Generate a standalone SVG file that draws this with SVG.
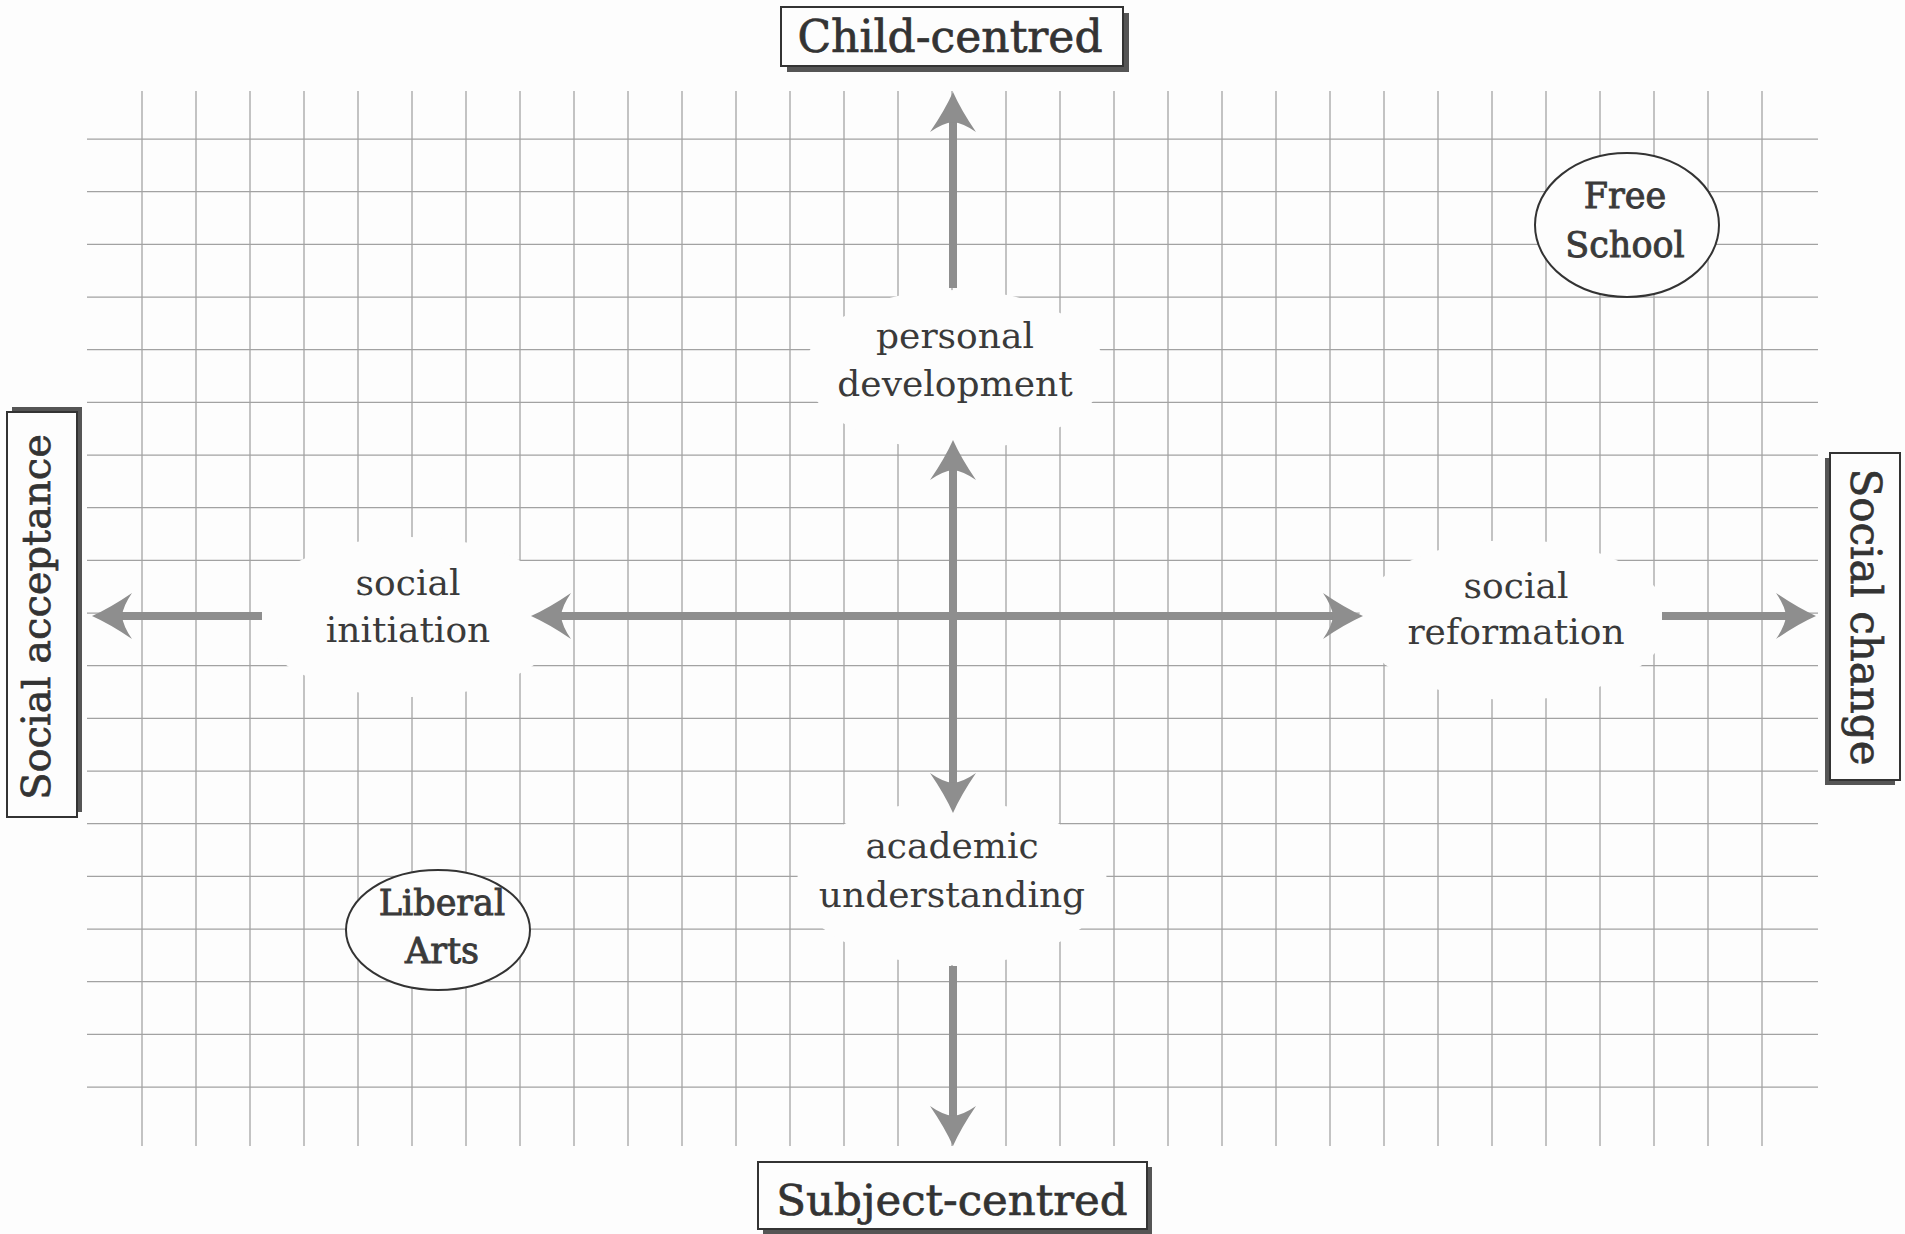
<svg xmlns="http://www.w3.org/2000/svg" width="1905" height="1234" viewBox="0 0 1905 1234">
<style>
.grid{stroke:#a2a2a2;stroke-width:1.25;fill:none}
.patch{fill:#fdfdfd;stroke:none}
.lbl{font-family:"DejaVu Serif","Liberation Serif",serif;font-size:36px;fill:#3a3a3a;text-anchor:middle}
.ttl{font-family:"DejaVu Serif","Liberation Serif",serif;fill:#333;stroke:#333;stroke-width:0.7;text-anchor:middle}
.ell{fill:#fdfdfd;stroke:#333;stroke-width:2}
.elt{font-family:"DejaVu Serif","Liberation Serif",serif;font-size:35px;fill:#3a3a3a;stroke:#3a3a3a;stroke-width:0.9;text-anchor:middle}
.box{fill:#fdfdfd;stroke:#333;stroke-width:2}
.shadow{fill:#555}
.arrow{stroke:#8e8e8e;stroke-width:8;fill:none;marker-end:url(#head)}
</style>
<defs>
<marker id="head" viewBox="-42 -25 44 50" refX="-28" refY="0" markerWidth="44" markerHeight="50" markerUnits="userSpaceOnUse" orient="auto-start-reverse">
<path d="M0 0 Q-18 -8 -40 -23 Q-31 -10 -30 0 Q-31 10 -40 23 Q-18 8 0 0Z" fill="#8e8e8e"/>
</marker>
</defs>
<rect width="1905" height="1234" fill="#fdfdfd"/>
<g id="grid" class="grid">
<path d="M142 91V1146M196 91V1146M250 91V1146M304 91V1146M358 91V1146M412 91V1146M466 91V1146M520 91V1146M574 91V1146M628 91V1146M682 91V1146M736 91V1146M790 91V1146M844 91V1146M898 91V1146M952 91V1146M1006 91V1146M1060 91V1146M1114 91V1146M1168 91V1146M1222 91V1146M1276 91V1146M1330 91V1146M1384 91V1146M1438 91V1146M1492 91V1146M1546 91V1146M1600 91V1146M1654 91V1146M1708 91V1146M1762 91V1146"/>
<path d="M87 139H1818M87 191.67H1818M87 244.33H1818M87 297H1818M87 349.67H1818M87 402.33H1818M87 455H1818M87 507.67H1818M87 560.33H1818M87 613H1818M87 665.67H1818M87 718.33H1818M87 771H1818M87 823.67H1818M87 876.33H1818M87 929H1818M87 981.67H1818M87 1034.33H1818M87 1087H1818"/>
</g>
<g id="node-child-centred">
<rect class="shadow" x="787" y="13" width="342" height="59"/>
<rect class="box" x="781" y="7" width="342" height="59"/>
<text class="ttl" x="950" y="52" font-size="44">Child-centred</text>
</g>
<g id="node-subject-centred">
<rect class="shadow" x="763" y="1167" width="389" height="67"/>
<rect class="box" x="758" y="1162" width="389" height="67"/>
<text class="ttl" x="952" y="1215" font-size="43.5">Subject-centred</text>
</g>
<g id="node-social-acceptance">
<rect class="shadow" x="12" y="407" width="70" height="405"/>
<rect class="box" x="7" y="412" width="70" height="405"/>
<text class="ttl" transform="translate(50 617) rotate(-90)" font-size="40">Social acceptance</text>
</g>
<g id="node-social-change">
<rect class="shadow" x="1825" y="458" width="70" height="327"/>
<rect class="box" x="1830" y="453" width="70" height="327"/>
<text class="ttl" transform="translate(1851 617) rotate(90)" font-size="42">Social change</text>
</g>
<g id="node-free-school">
<ellipse class="ell" cx="1627" cy="225" rx="92" ry="72"/>
<text class="elt" x="1625" y="208">Free</text>
<text class="elt" x="1625" y="257">School</text>
</g>
<g id="node-liberal-arts">
<ellipse class="ell" cx="438" cy="930" rx="92" ry="60"/>
<text class="elt" x="442" y="915">Liberal</text>
<text class="elt" x="442" y="963">Arts</text>
</g>
<g id="node-personal-development">
<ellipse class="patch" cx="955" cy="370" rx="150" ry="80"/>
<text class="lbl" x="955" y="348">personal</text>
<text class="lbl" x="955" y="396">development</text>
</g>
<g id="node-social-initiation">
<ellipse class="patch" cx="410" cy="617" rx="155" ry="80"/>
<text class="lbl" x="408" y="595">social</text>
<text class="lbl" x="408" y="642">initiation</text>
</g>
<g id="node-social-reformation">
<ellipse class="patch" cx="1514" cy="620" rx="155" ry="80"/>
<text class="lbl" x="1516" y="598">social</text>
<text class="lbl" x="1516" y="644">reformation</text>
</g>
<g id="node-academic-understanding">
<ellipse class="patch" cx="952" cy="883" rx="155" ry="82"/>
<text class="lbl" x="952" y="858">academic</text>
<text class="lbl" x="952" y="907">understanding</text>
</g>
<g id="connectors">
<path class="arrow" d="M953 288V120"/>
<path class="arrow" d="M953 468V785" marker-start="url(#head)"/>
<path class="arrow" d="M953 966V1118"/>
<path class="arrow" d="M559 616H1335" marker-start="url(#head)"/>
<path class="arrow" d="M262 616H120"/>
<path class="arrow" d="M1662 616H1788"/>
</g>
</svg>
